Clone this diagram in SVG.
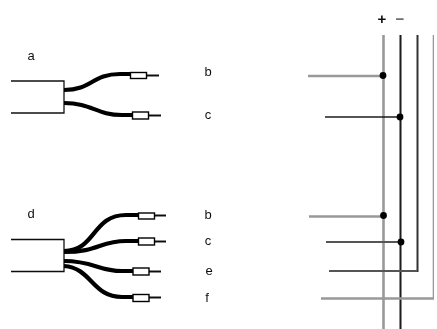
<svg xmlns="http://www.w3.org/2000/svg" width="437" height="329" viewBox="0 0 437 329">
<style>
text{font-family:"Liberation Sans",Arial,sans-serif;font-size:13px;fill:#111;text-anchor:middle}
.jacket{fill:none;stroke:#111;stroke-width:1.3}
.wire{fill:none;stroke:#000;stroke-width:4.2}
.tail{fill:none;stroke:#111;stroke-width:2}
.plug{fill:#fff;stroke:#000;stroke-width:1.4}
.bus{fill:none;stroke-width:2}
.gray{stroke:#999;stroke-width:2.6}
.dark{stroke:#555}
.black{stroke:#1a1a1a}
.dot{fill:#000}
</style>
<defs><filter id="soft" x="0" y="0" width="100%" height="100%"><feGaussianBlur stdDeviation="0.45"/></filter></defs>
<g filter="url(#soft)">
<g id="cable-a">
<path class="jacket" d="M11 81H64V113H11"/>
<path class="wire" d="M64 90C92 90 92 74 120 74H131"/>
<path class="wire" d="M64 103C92 103 96 115 122 115H133"/>
<path class="tail" d="M146 75.500H159M149 115.500H161"/>
<rect class="plug" x="130.500" y="72.500" width="16" height="6"/>
<rect class="plug" x="132.500" y="112" width="16" height="7"/>
<text x="31" y="60">a</text>
<text x="208" y="76">b</text>
<text x="208" y="119">c</text>
</g>
<g id="cable-d">
<path class="jacket" d="M11 239.500H64V271.500H11"/>
<path class="wire" d="M64 251C96 251 92 215 126 215H139"/>
<path class="wire" d="M64 252C98 252 100 241 126 241H139"/>
<path class="wire" d="M64 261C94 261 98 271 122 271H134"/>
<path class="wire" d="M64 266C92 268 92 297 122 297H134"/>
<path class="tail" d="M154 215.500H166M154 241.500H166M149 271.500H161M149 297.500H161"/>
<rect class="plug" x="138.500" y="213" width="16" height="6"/>
<rect class="plug" x="138.500" y="238" width="16" height="7"/>
<rect class="plug" x="133" y="268" width="16" height="7"/>
<rect class="plug" x="133" y="294.500" width="16" height="7"/>
<text x="31" y="218">d</text>
<text x="208" y="219">b</text>
<text x="208" y="245">c</text>
<text x="209" y="275">e</text>
<text x="207" y="302">f</text>
</g>
<g id="connectors">
<path class="bus gray" d="M383.500 35V329"/>
<path class="bus black" d="M400.500 35V329"/>
<path class="bus black" d="M417.500 35V271H329" style="stroke:#333"/>
<path class="bus gray" d="M434 35V298.500H321"/>
<path class="bus gray" d="M308 76H383"/>
<path class="bus black" style="stroke-width:1.6" d="M325 117H400"/>
<path class="bus gray" d="M309 216.500H383"/>
<path class="bus dark" d="M326 242H400"/>
<path class="bus dark" d="M329 271H417"/>
</g>
<g id="junctions">
<circle class="dot" cx="383" cy="75.500" r="3.400"/>
<circle class="dot" cx="400" cy="117" r="3.400"/>
<circle class="dot" cx="383.500" cy="215.500" r="3.400"/>
<circle class="dot" cx="401" cy="242" r="3.400"/>
</g>
<g id="polarity">
<text x="382" y="24" style="font-size:15px;font-weight:bold">+</text>
<text x="400" y="24" style="font-size:15px;font-weight:bold;fill:#666">−</text>
</g>
</g>
</svg>
